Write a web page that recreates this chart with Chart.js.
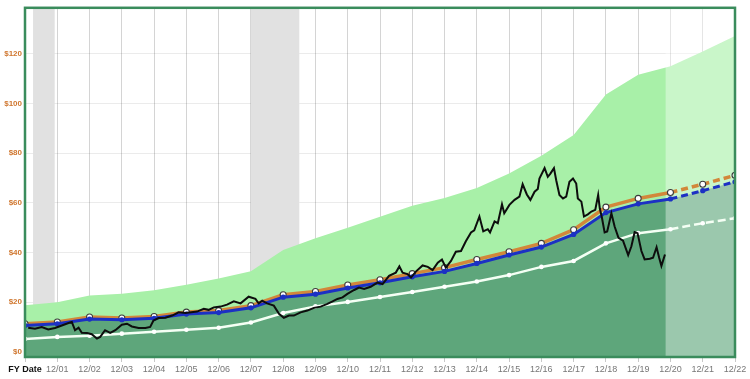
<!DOCTYPE html>
<html>
<head>
<meta charset="utf-8">
<script src="https://cdn.jsdelivr.net/npm/chart.js@4.4.1/dist/chart.umd.min.js"></script>
<style>
  html, body { margin: 0; padding: 0; background: #fff; }
  #wrap { width: 750px; height: 379px; }
</style>
</head>
<body>
<div id="wrap"><canvas id="fastChart" width="750" height="379"></canvas></div>
<script>
// x values are years after 12/00 (fiscal year ends in December)
const years = [0, 1, 2, 3, 4, 5, 6, 7, 8, 9, 10, 11, 12, 13, 14, 15, 16, 17, 18, 19, 20, 21, 22];
const xTickLabels = ['FY Date', '12/01', '12/02', '12/03', '12/04', '12/05', '12/06', '12/07', '12/08',
  '12/09', '12/10', '12/11', '12/12', '12/13', '12/14', '12/15', '12/16', '12/17', '12/18', '12/19',
  '12/20', '12/21', '12/22'];
const yTicks = [0, 20, 40, 60, 80, 100, 120];

// light green band (upper valuation)
const upperBand = [18.8, 20.0, 22.7, 23.4, 24.8, 27.0, 29.5, 32.5, 41.0, 45.7, 50.0, 54.4, 58.8,
  62.0, 66.0, 71.8, 79.0, 87.3, 103.7, 111.6, 115.0, 121.0, 127.2];
// orange line (with markers)
const orangeLine = [11.3, 12.0, 14.0, 13.6, 14.2, 16.0, 16.6, 18.6, 23.0, 24.3, 26.9, 29.0, 31.5,
  33.9, 37.2, 40.3, 43.7, 49.2, 58.3, 61.8, 64.2, 67.5, 71.1];
// blue line (normal P/E), also top of the dark green area
const blueLine = [10.6, 11.3, 13.2, 12.9, 13.5, 15.2, 15.8, 17.7, 22.0, 23.2, 25.7, 27.8, 30.2,
  32.4, 35.6, 39.0, 42.2, 47.3, 56.1, 59.6, 61.6, 64.9, 68.5];
// white line
const whiteLine = [5.2, 6.0, 6.5, 7.3, 8.1, 8.9, 9.7, 11.8, 15.6, 18.3, 20.1, 22.1, 24.1,
  26.2, 28.3, 30.9, 34.2, 36.6, 43.7, 47.8, 49.4, 51.8, 53.8];

// price line
const priceDates = [0.10, 0.31, 0.52, 0.72, 0.93, 1.14, 1.35, 1.45, 1.55, 1.66, 1.76, 1.92, 2.07, 2.23,
  2.33, 2.48, 2.64, 2.80, 3.00, 3.16, 3.31, 3.52, 3.73, 3.88, 3.98, 4.14, 4.35, 4.56, 4.76, 4.97,
  5.15, 5.33, 5.54, 5.69, 5.85, 6.06, 6.26, 6.47, 6.68, 6.93, 7.14, 7.24, 7.35, 7.50, 7.71, 7.87,
  8.02, 8.18, 8.33, 8.54, 8.75, 8.95, 9.16, 9.37, 9.53, 9.68, 9.84, 9.99, 10.20, 10.35, 10.51,
  10.71, 10.92, 11.08, 11.28, 11.49, 11.60, 11.70, 11.85, 11.96, 12.11, 12.32, 12.48, 12.63, 12.79,
  12.92, 13.04, 13.20, 13.35, 13.51, 13.66, 13.82, 13.92, 14.08, 14.20, 14.34, 14.41, 14.55, 14.65,
  14.78, 14.85, 15.01, 15.17, 15.32, 15.42, 15.55, 15.66, 15.79, 15.89, 15.94, 16.10, 16.20, 16.28,
  16.39, 16.46, 16.56, 16.67, 16.77, 16.87, 16.98, 17.08, 17.13, 17.24, 17.32, 17.44, 17.55, 17.67,
  17.76, 17.81, 17.88, 17.96, 18.04, 18.17, 18.27, 18.39, 18.53, 18.69, 18.79, 18.89, 18.98, 19.10,
  19.20, 19.36, 19.46, 19.57, 19.65, 19.72, 19.83];
const priceValues = [9.7, 9.3, 10.0, 9.0, 9.6, 10.6, 11.6, 12.0, 8.7, 9.7, 7.7, 7.6, 7.1, 5.3,
  6.0, 8.7, 7.6, 8.7, 10.9, 11.3, 10.2, 9.6, 9.6, 10.0, 12.6, 13.6, 13.7, 14.6, 15.9, 15.6,
  15.9, 16.2, 17.3, 16.9, 17.9, 18.2, 19.0, 20.3, 19.5, 22.2, 21.3, 19.5, 20.6, 19.5, 18.6, 15.3,
  13.7, 14.6, 14.6, 15.9, 16.6, 17.7, 18.2, 19.3, 20.3, 21.3, 21.9, 23.3, 24.9, 25.9, 25.3,
  26.2, 27.9, 27.3, 30.6, 31.9, 34.4, 31.9, 31.3, 29.9, 32.3, 34.8, 34.2, 32.9, 35.9,
  37.2, 33.9, 36.6, 40.3, 40.6, 44.5, 48.1, 48.9, 54.5, 48.5, 49.4, 48.1, 52.5, 51.8,
  59.4, 55.8, 59.2, 61.2, 62.5, 67.5, 63.4, 61.2, 64.5, 65.6, 69.8, 74.0, 70.5, 71.8,
  74.0, 69.1, 63.2, 61.8, 62.5, 68.5, 69.8, 67.8, 61.8, 60.5, 54.5, 55.4, 56.5, 57.2,
  63.2, 57.8, 53.8, 48.1, 48.5, 55.8, 50.5, 45.9, 44.8, 39.0, 42.5, 48.2, 47.8, 40.6,
  37.2, 37.5, 37.9, 42.1, 37.9, 34.6, 39.2];

// recessions (grey bands) and start of estimates
const recessionStart = [0.25, 7.0];
const recessionEnd = [0.92, 8.5];
const projectionStart = 19.85;

const toPoints = (xs, ys) => xs.map((x, i) => ({ x: x, y: ys[i] }));
const dashAfter = (dash) => (ctx) => (ctx.p0DataIndex >= 20 ? dash : undefined);

Chart.defaults.font.family = "'Liberation Sans', Arial, sans-serif";

const backdropPlugin = {
  id: 'backdrop',
  beforeDatasetsDraw(chart) {
    const { ctx, chartArea, scales } = chart;
    ctx.save();
    ctx.fillStyle = '#e1e1e1';
    recessionStart.forEach((s, i) => {
      const x1 = scales.x.getPixelForValue(s);
      const x2 = scales.x.getPixelForValue(recessionEnd[i]);
      ctx.fillRect(x1, chartArea.top, x2 - x1, chartArea.bottom - chartArea.top);
    });
    ctx.restore();
  },
  afterDatasetDraw(chart, args) {
    // wash out the estimate years, under the lines
    if (chart.data.datasets[args.index].label !== 'darkFill') return;
    const { ctx, chartArea, scales } = chart;
    const x1 = scales.x.getPixelForValue(projectionStart);
    ctx.save();
    ctx.fillStyle = 'rgba(255,255,255,0.38)';
    ctx.fillRect(x1, chartArea.top, chartArea.right - x1, chartArea.bottom - chartArea.top);
    ctx.restore();
  },
  afterDraw(chart) {
    const { ctx, chartArea } = chart;
    ctx.save();
    ctx.strokeStyle = '#3a8c5c';
    ctx.lineWidth = 2.5;
    ctx.strokeRect(chartArea.left, chartArea.top, chartArea.right - chartArea.left, chartArea.bottom - chartArea.top);
    ctx.restore();
  }
};

new Chart(document.getElementById('fastChart').getContext('2d'), {
  type: 'line',
  data: {
    datasets: [
      {
        label: 'upper',
        data: toPoints(years, upperBand),
        fill: 'start',
        backgroundColor: '#a8f0a8',
        borderWidth: 0,
        pointRadius: 0,
        order: 6
      },
      {
        label: 'darkFill',
        data: toPoints(years, blueLine),
        fill: 'start',
        backgroundColor: '#5ea67b',
        borderWidth: 0,
        pointRadius: 0,
        order: 5
      },
      {
        label: 'white',
        data: toPoints(years, whiteLine),
        fill: false,
        borderColor: '#f4fff4',
        borderWidth: 2.5,
        pointRadius: 2.3,
        pointBackgroundColor: '#ffffff',
        pointBorderWidth: 0,
        segment: { borderDash: dashAfter([8, 4]) },
        order: 4
      },
      {
        label: 'orange',
        data: toPoints(years, orangeLine),
        fill: false,
        borderColor: '#d2873a',
        borderWidth: 3.5,
        pointRadius: 3,
        pointBackgroundColor: '#ffffff',
        pointBorderColor: '#3c3c3c',
        pointBorderWidth: 1.1,
        segment: { borderDash: dashAfter([7, 4]) },
        order: 3
      },
      {
        label: 'blue',
        data: toPoints(years, blueLine),
        fill: false,
        borderColor: '#1c30c4',
        borderWidth: 3,
        pointRadius: 2.6,
        pointBackgroundColor: '#1c30c4',
        pointBorderWidth: 0,
        segment: { borderDash: dashAfter([7, 4]) },
        order: 2
      },
      {
        label: 'price',
        data: toPoints(priceDates, priceValues),
        fill: false,
        borderColor: '#0d0d0d',
        borderWidth: 2,
        pointRadius: 0,
        order: 1
      }
    ]
  },
  options: {
    responsive: false,
    animation: false,
    devicePixelRatio: 1,
    layout: { padding: { top: 4, right: 15, left: 0, bottom: 0 } },
    plugins: {
      legend: { display: false },
      tooltip: { enabled: false }
    },
    scales: {
      x: {
        type: 'linear',
        min: 0,
        max: 22,
        z: 1,
        afterBuildTicks: (scale) => { scale.ticks = years.map(v => ({ value: v })); },
        afterFit: (scale) => { scale.height = 22; },
        border: { display: false },
        grid: { color: 'rgba(0,0,0,0.17)', tickColor: '#c8c8c8', tickLength: 5 },
        ticks: {
          autoSkip: false,
          maxRotation: 0,
          padding: 2,
          color: (c) => (c.index === 0 ? '#111111' : '#777777'),
          font: (c) => (c.index === 0 ? { size: 9, weight: 'bold' } : { size: 9 }),
          callback: (value, index) => xTickLabels[index]
        }
      },
      y: {
        type: 'linear',
        min: -2.1,
        max: 138.6,
        z: 1,
        afterBuildTicks: (scale) => { scale.ticks = yTicks.map(v => ({ value: v })); },
        afterFit: (scale) => { scale.width = 25; },
        border: { display: false },
        grid: { color: 'rgba(0,0,0,0.08)', drawTicks: false },
        ticks: {
          color: '#d0772f',
          padding: 3,
          font: { size: 8, weight: 'bold' },
          callback: (value) => '$' + value
        }
      }
    }
  },
  plugins: [backdropPlugin]
});
</script>
</body>
</html>
